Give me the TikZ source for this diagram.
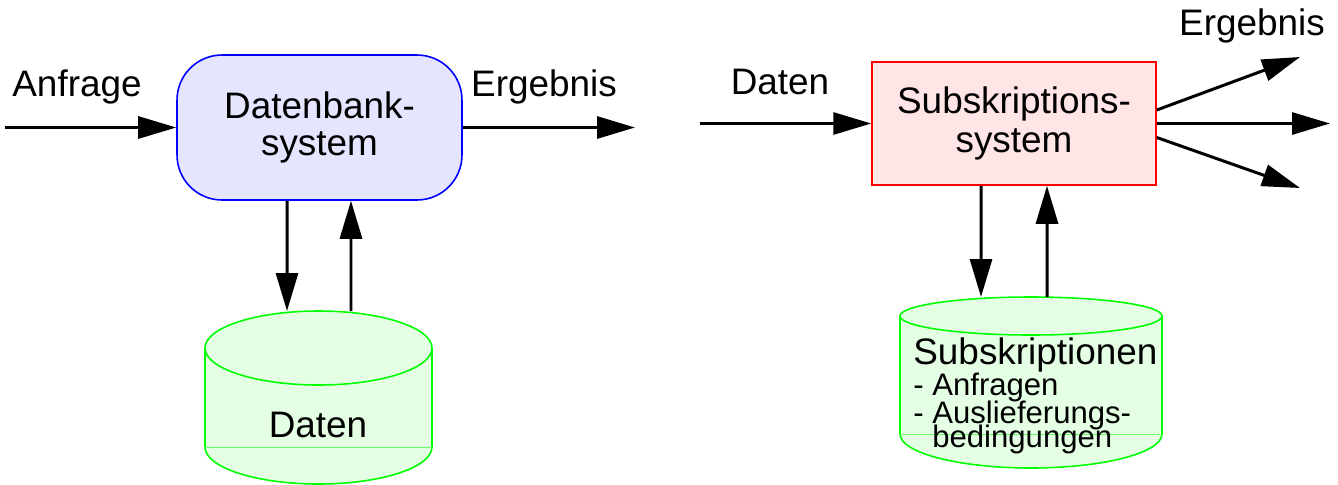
\documentclass[tikz,border=0pt]{standalone}
\usepackage{fontspec}
\setmainfont{Liberation Sans}
\usetikzlibrary{positioning, arrows.meta}

\begin{document}
\begin{tikzpicture}[x=0.02cm, y=-0.02cm,
  arr/.style={line width=1.7pt, -{Triangle[length=0.76cm, width=0.44cm]}},
  big/.style={font=\fontsize{21}{21}\selectfont},
  small/.style={font=\fontsize{17.7}{18}\selectfont},
  lbl/.style={big, anchor=base, inner sep=0pt},
  cylline/.style={green, line width=0.9pt}]
\useasboundingbox (0,0) rectangle (1338,484);
% --- Datenbanksystem ---
\node[draw=blue, fill=blue!10, line width=0.9pt, rounded corners=0.9cm,
      minimum width=5.7cm, minimum height=2.9cm, align=center, big] (dbs) at (319.5,127.5) {Datenbank-\\system};
\node[lbl] (anfrage) at (77,96) {Anfrage};
\node[lbl] (ergebnis) at (544,96) {Ergebnis};
\coordinate (anfrage in) at (5,127.5);
\coordinate (ergebnis out) at (635,127.5);
\draw[arr] (anfrage in) -- (dbs.west);
\draw[arr] (dbs.east) -- (ergebnis out);
% --- Daten (cylinder) ---
\fill[green!10] (205,348) rectangle (432,447);
\fill[green!10] (318.5,447) ellipse (113.5 and 37);
\fill[green!10] (318.5,348) ellipse (113.5 and 37);
\draw[cylline] (318.5,348) ellipse (113.5 and 37);
\draw[cylline] (205,348) -- (205,447) arc[start angle=180, end angle=0, x radius=113.5, y radius=37] -- (432,348);
\draw[green!60, line width=0.5pt] (205,447) -- (432,447);
\coordinate (daten top) at (318.5,311);
\node[lbl] (daten) at (318,437) {Daten};
\draw[arr] ([xshift=-0.65cm]dbs.south) -- ([xshift=-0.63cm]daten top);
\draw[arr] ([xshift=0.65cm]daten top) -- ([xshift=0.63cm]dbs.south);
% --- Subskriptionssystem ---
\node[draw=red, fill=red!10, line width=0.9pt, minimum width=5.68cm, minimum height=2.46cm,
      align=center, font=\fontsize{21}{22}\selectfont] (sub) at (1014,123.5) {Subskriptions-\\system};
\node[lbl] (datenlbl) at (780,94) {Daten};
\node[lbl] (ergebnis2) at (1252,35) {Ergebnis};
\coordinate (daten in) at (700,123.5);
\coordinate (out1) at (1300,57);
\coordinate (out2) at (1330,123.5);
\coordinate (out3) at (1300,188);
\draw[arr] (daten in) -- (sub.west);
\draw[arr] ([yshift=0.27cm]sub.east) -- (out1);
\draw[arr] (sub.east) -- (out2);
\draw[arr] ([yshift=-0.28cm]sub.east) -- (out3);
% --- Subskriptionen (cylinder) ---
\fill[green!10] (900,316) rectangle (1162,434);
\fill[green!10] (1031,434) ellipse (131 and 34);
\fill[green!10] (1031,316) ellipse (131 and 19);
\draw[cylline] (1031,316) ellipse (131 and 19);
\draw[cylline] (900,316) -- (900,434) arc[start angle=180, end angle=0, x radius=131, y radius=34] -- (1162,316);
\draw[green!60, line width=0.5pt] (900,434) -- (1162,434);
\coordinate (subs top) at (1031,297);
\draw[arr] ([xshift=-0.66cm]sub.south) -- ([xshift=-1cm]subs top);
\draw[arr] ([xshift=0.32cm]subs top) -- ([xshift=0.66cm]sub.south);
\node[lbl, anchor=base west] (subsname) at (913,364) {Subskriptionen};
\node[small, anchor=base west, inner sep=0pt] (anfragen) at (913,395) {- Anfragen};
\node[small, anchor=base west, inner sep=0pt] (ausl) at (913,423) {- Auslieferungs-};
\node[small, anchor=base west, inner sep=0pt] (bed) at (932,447) {bedingungen};
\end{tikzpicture}
\end{document}
